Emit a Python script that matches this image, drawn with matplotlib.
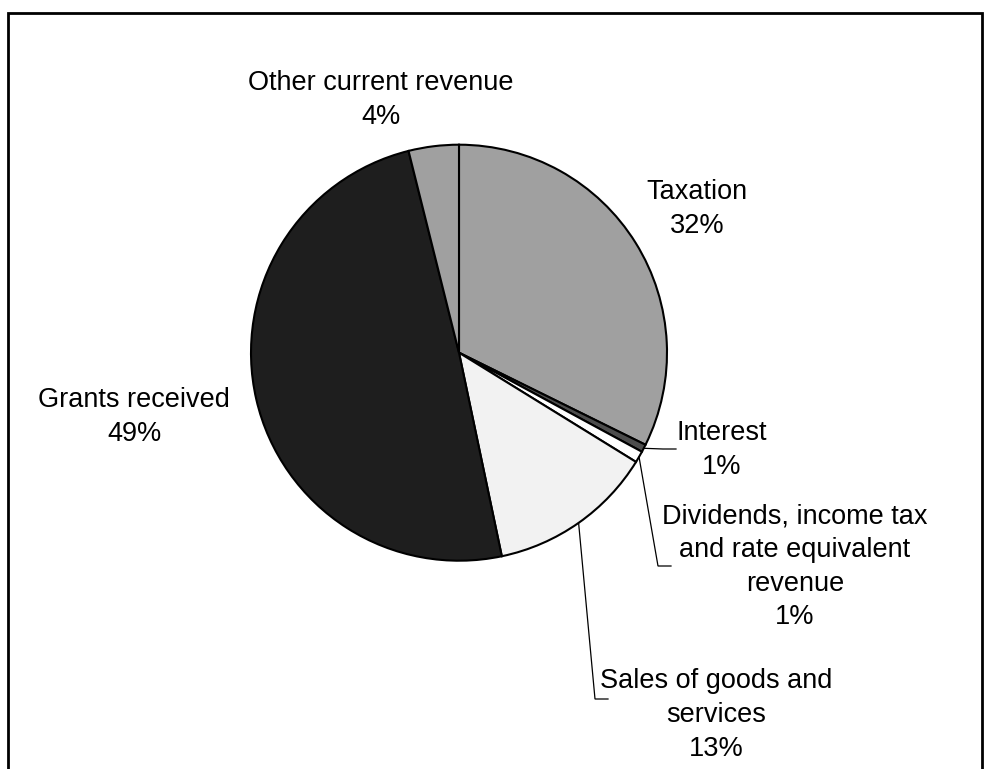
import matplotlib
matplotlib.use("Agg")
import matplotlib.pyplot as plt
import numpy as np
from matplotlib.patches import Rectangle

# Current revenue shares (%), clockwise from 12 o'clock
labels = [
    "Taxation",
    "Interest",
    "Dividends, income tax\nand rate equivalent\nrevenue",
    "Sales of goods and\nservices",
    "Grants received",
    "Other current revenue",
]
shares = [32.3, 0.6, 0.9, 12.9, 49.4, 3.9]
colors = ["#a0a0a0", "#4d4d4d", "#ffffff", "#f2f2f2", "#1e1e1e", "#a0a0a0"]

W, H = 984, 769
CX, CY, R = 459, H - 352.7, 208

# label block centres (pixels, y measured from top)
label_pos = [(697, 209), (722, 450), (795, 567), (716, 715), (134, 417), (381, 100)]
# leader elbows for the small/outer slices: (elbow, end of horizontal tick)
leaders = {
    1: ((663, 449), (676, 449)),
    2: ((658, 566), (671, 566)),
    3: ((595, 699), (608, 699)),
}

plt.rcParams["font.family"] = ["Liberation Sans", "DejaVu Sans"]

fig = plt.figure(figsize=(W / 100, H / 100), dpi=100)
ax = fig.add_axes([0, 0, 1, 1])

wedges, _ = ax.pie(
    shares,
    colors=colors,
    startangle=90,
    counterclock=False,
    center=(CX, CY),
    radius=R,
    wedgeprops=dict(edgecolor="black", linewidth=1.5),
    frame=True,
)
ax.set_xlim(0, W)
ax.set_ylim(0, H)
ax.set_aspect("equal")
ax.axis("off")

for i, (w, lab, val) in enumerate(zip(wedges, labels, shares)):
    x, y = label_pos[i]
    ax.text(x, H - y, f"{lab}\n{val:.0f}%", ha="center", va="center",
            fontsize=19.5, linespacing=1.38, color="black")
    if i in leaders:
        mid = np.deg2rad((w.theta1 + w.theta2) / 2)
        sx, sy = CX + R * np.cos(mid), CY + R * np.sin(mid)
        (ex, ey), (tx, ty) = leaders[i]
        ax.plot([sx, ex, tx], [sy, H - ey, H - ty], color="black", lw=0.9,
                solid_joinstyle="miter")

# chart area border (runs off the bottom edge)
ax.add_patch(Rectangle((8, -20), 974, H - 13 + 20, fill=False,
                       edgecolor="black", linewidth=2, clip_on=False))

fig.savefig("out.png", dpi=100)
